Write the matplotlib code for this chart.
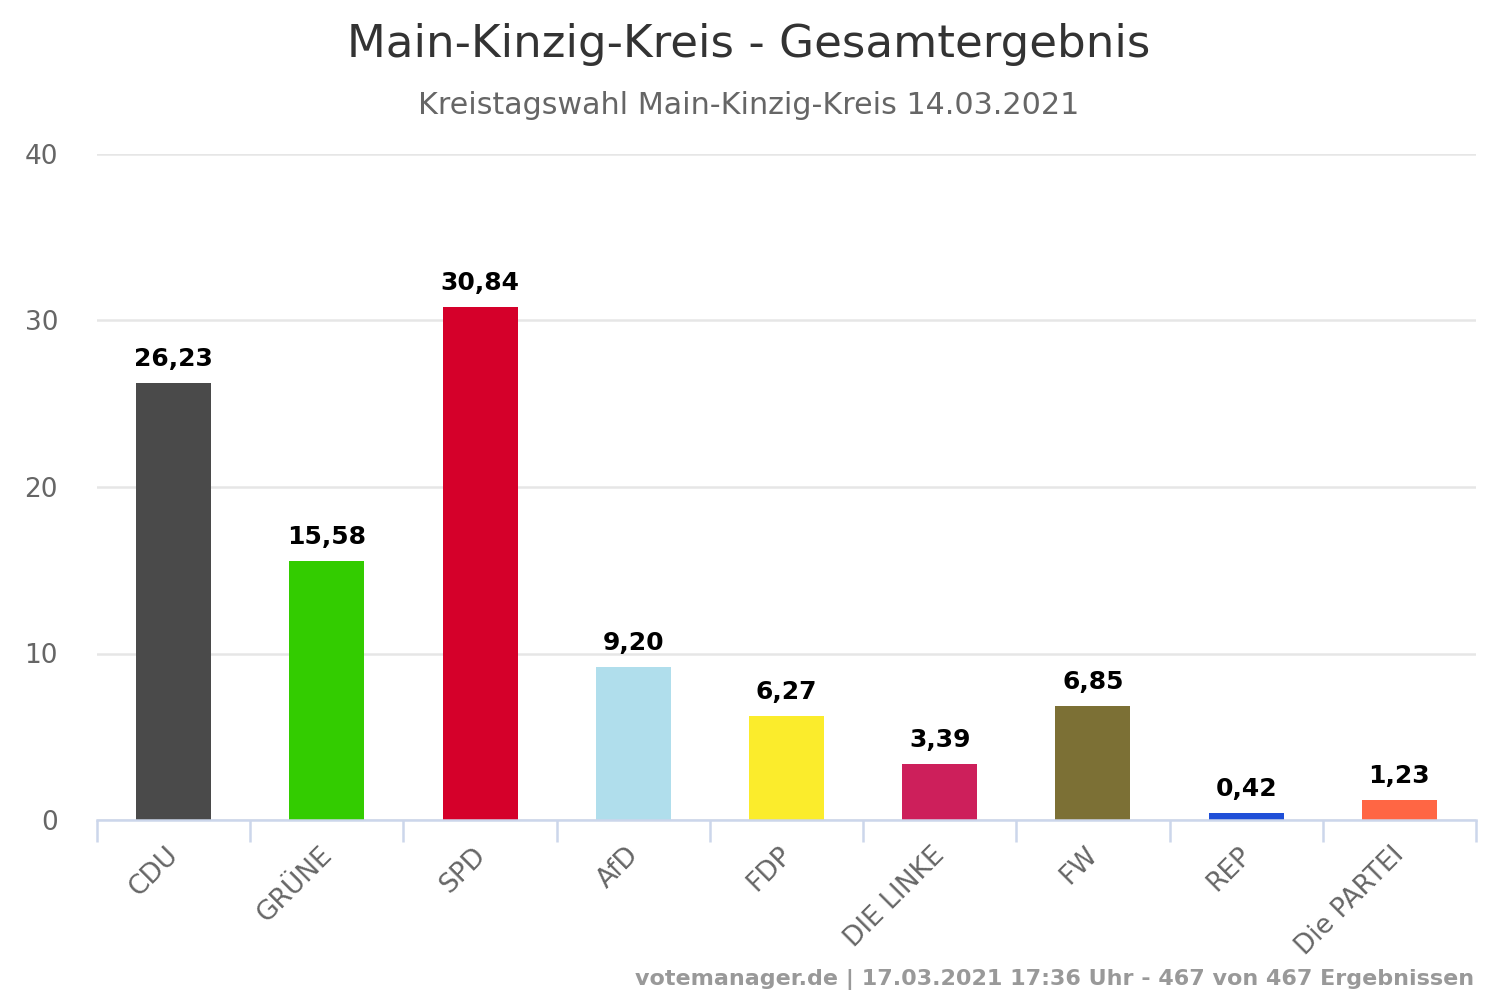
import matplotlib
matplotlib.use("Agg")
import matplotlib.pyplot as plt

categories = ["CDU", "GRÜNE", "SPD", "AfD", "FDP", "DIE LINKE", "FW", "REP", "Die PARTEI"]
values = [26.23, 15.58, 30.84, 9.20, 6.27, 3.39, 6.85, 0.42, 1.23]
colors = ["#4a4a4a", "#33cc00", "#d5002a", "#b0deec", "#fbec2c", "#cd1f5b", "#7c7035", "#1f4fd8", "#ff6644"]
yticks = [0, 10, 20, 30, 40]

plt.rcParams["font.family"] = "DejaVu Sans"
fig = plt.figure(figsize=(15, 10), dpi=100)
ax = fig.add_axes([97/1500, 1-820/1000, (1476-97)/1500, (820-154)/1000])
x = list(range(len(values)))
ax.bar(x, values, width=0.49, color=colors, zorder=3)
ax.set_xlim(-0.5, 8.5)
ax.set_ylim(0, 40)
ax.set_yticks(yticks)
ax.set_yticklabels([str(t) for t in yticks], fontsize=19, color="#666666")
ax.grid(axis="y", color="#e6e6e6", lw=1.8, zorder=0)
ax.set_axisbelow(True)
for s in ["top", "right", "left"]:
    ax.spines[s].set_visible(False)
ax.spines["bottom"].set_color("#ccd6eb")
ax.spines["bottom"].set_linewidth(1.8)
ax.spines["bottom"].set_zorder(4)
ax.tick_params(axis="y", length=0, pad=28)
ax.set_xticks([i - 0.5 for i in range(10)])
ax.set_xticklabels([])
ax.tick_params(axis="x", length=16, width=1.8, color="#ccd6eb")
for i, (c, v) in enumerate(zip(categories, values)):
    ax.annotate(f"{v:.2f}".replace(".", ","), (i, v), xytext=(0, 12), textcoords="offset pixels",
                ha="center", va="bottom", fontsize=18, fontweight="bold", color="black")
    ax.annotate(c, (i, 0), xytext=(-8, -22), textcoords="offset pixels", ha="right", va="top",
                rotation=45, rotation_mode="anchor", fontsize=19, color="#666666", annotation_clip=False)
fig.text(749/1500, 1-44/1000, "Main-Kinzig-Kreis - Gesamtergebnis", ha="center", va="center", fontsize=32.5, color="#333333")
fig.text(749/1500, 1-105/1000, "Kreistagswahl Main-Kinzig-Kreis 14.03.2021", ha="center", va="center", fontsize=21.7, color="#666666")
fig.text(1474/1500, 1-979/1000, "votemanager.de | 17.03.2021 17:36 Uhr - 467 von 467 Ergebnissen", ha="right", va="center", fontsize=16, fontweight="bold", color="#999999")
fig.savefig("out.png", dpi=100, facecolor="white")
